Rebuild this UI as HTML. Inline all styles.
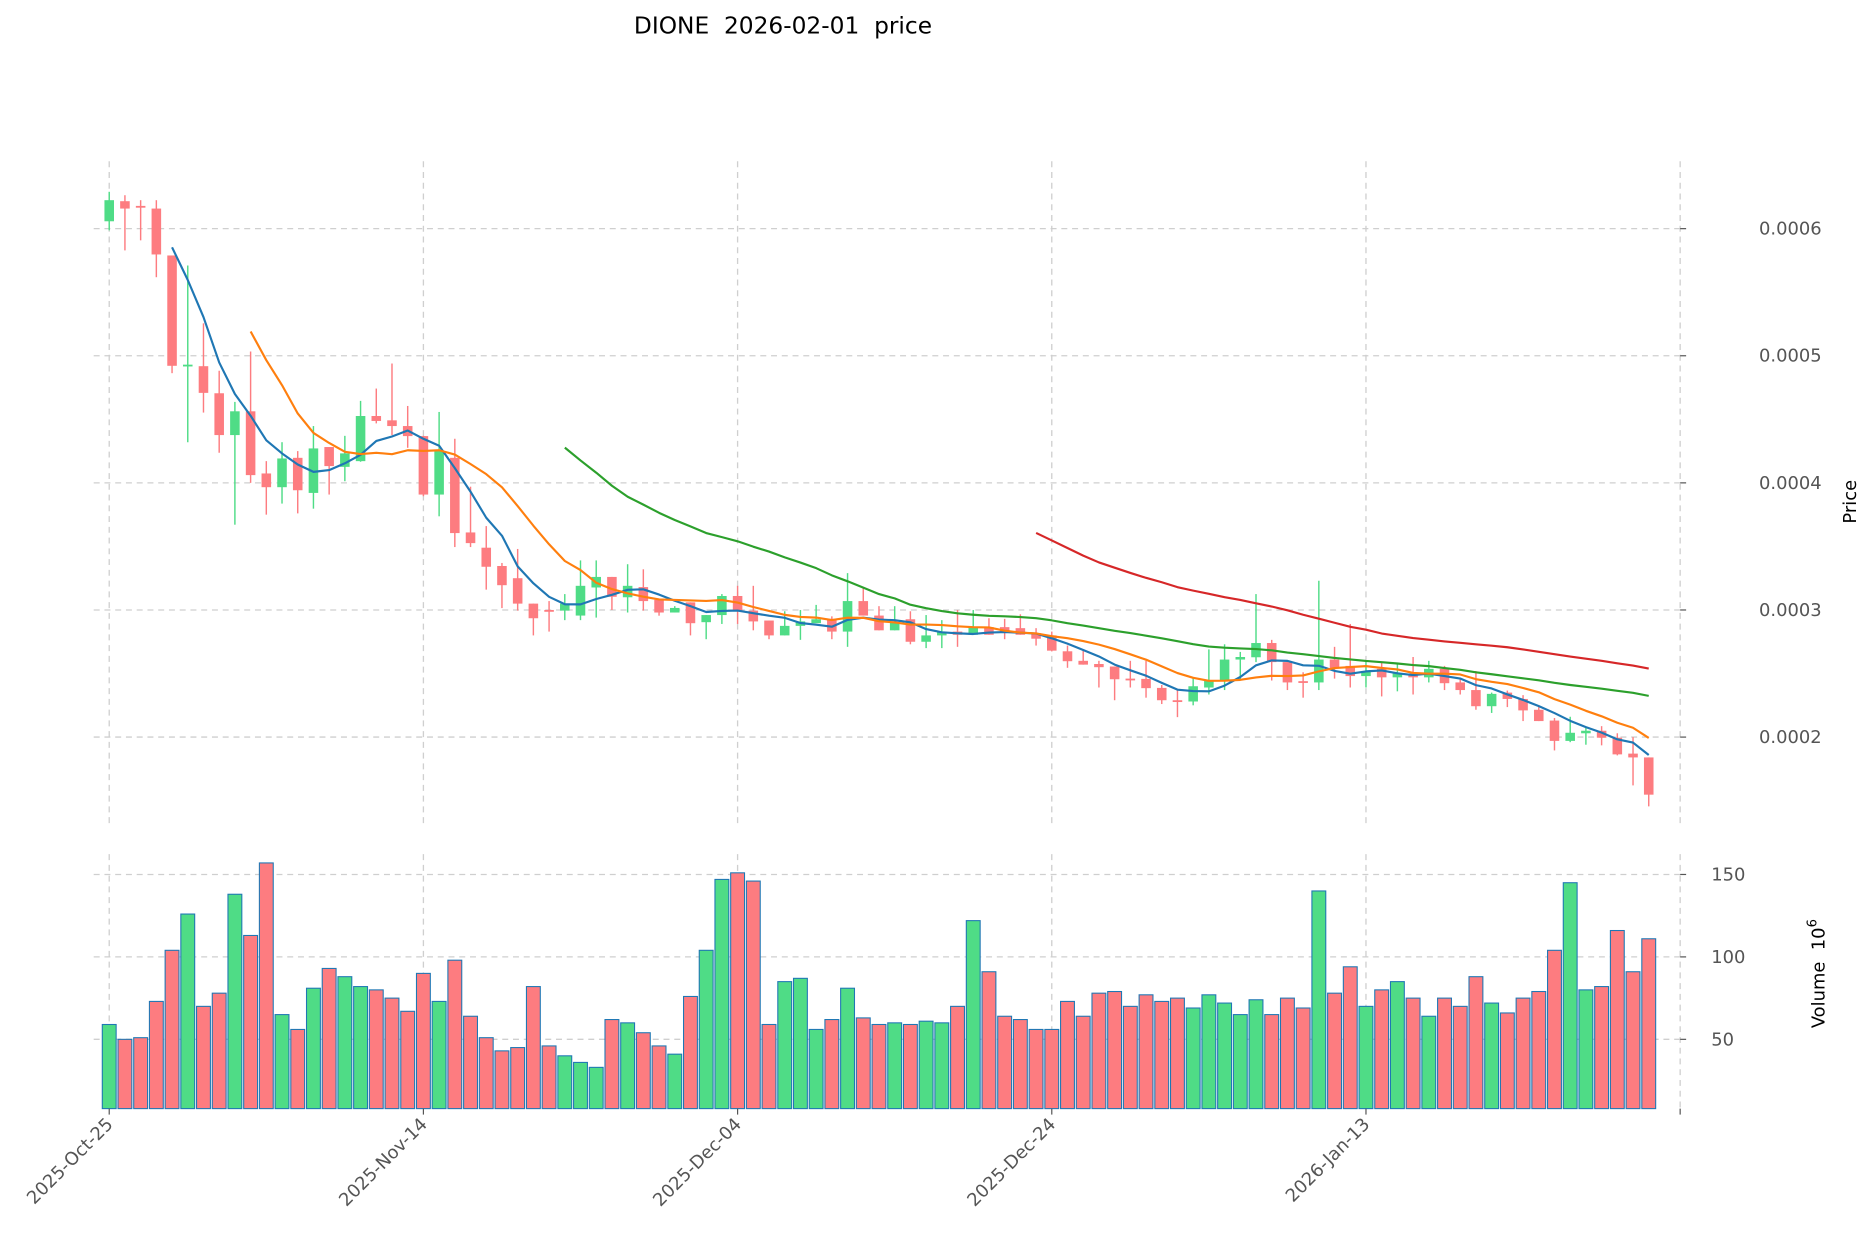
<!DOCTYPE html>
<html><head><meta charset="utf-8"><style>
html,body{margin:0;padding:0;background:#fff;}
svg{display:block;font-family:"DejaVu Sans","Liberation Sans",sans-serif;}
</style></head><body>
<svg id="chart" width="1873" height="1246" viewBox="0 0 1567 1043" xmlns="http://www.w3.org/2000/svg">
<text x="655" y="28" font-size="19.5" text-anchor="middle" fill="#000" xml:space="preserve">DIONE  2026-02-01  price</text>
<g id="grid"></g>
<g id="vol"></g>
<g id="candles"></g>
<g id="mas"></g>
<g id="axes"></g>
<text transform="translate(1553,420) rotate(-90)" font-size="15" text-anchor="middle" fill="#000">Price</text>
<text transform="translate(1527,815) rotate(-90)" font-size="15" text-anchor="middle" fill="#000" xml:space="preserve">Volume  10<tspan dy="-7" font-size="11">6</tspan></text>
</svg>
<script>
const opens=[6.058,6.216,6.179,6.158,5.789,4.92,4.918,4.705,4.376,4.563,4.074,3.966,4.197,3.921,4.282,4.126,4.171,4.526,4.492,4.447,4.368,3.908,4.197,3.61,3.49,3.346,3.25,3.05,3.0,2.995,2.956,3.177,3.26,3.1,3.18,3.08,2.98,3.06,2.904,2.96,3.11,2.995,2.917,2.80,2.875,2.896,2.93,2.83,3.07,2.956,2.84,2.927,2.75,2.80,2.83,2.805,2.865,2.865,2.857,2.818,2.80,2.675,2.60,2.575,2.555,2.46,2.458,2.387,2.29,2.28,2.39,2.445,2.61,2.628,2.74,2.59,2.44,2.43,2.61,2.56,2.48,2.537,2.47,2.50,2.47,2.537,2.43,2.37,2.243,2.35,2.30,2.215,2.13,1.97,2.03,2.05,1.995,1.87,1.84];
const closes=[6.224,6.158,6.168,5.797,4.921,4.93,4.708,4.376,4.563,4.061,3.966,4.192,3.942,4.271,4.132,4.232,4.526,4.487,4.447,4.368,3.908,4.25,3.605,3.526,3.34,3.195,3.05,2.935,2.995,3.05,3.19,3.26,3.104,3.19,3.07,2.98,3.016,2.896,2.96,3.11,2.995,2.91,2.80,2.875,2.91,2.927,2.83,3.07,2.956,2.84,2.9,2.75,2.80,2.83,2.805,2.87,2.805,2.82,2.805,2.774,2.68,2.597,2.57,2.55,2.455,2.455,2.385,2.29,2.28,2.40,2.445,2.61,2.63,2.74,2.59,2.43,2.435,2.61,2.54,2.48,2.52,2.47,2.50,2.47,2.537,2.424,2.37,2.243,2.34,2.30,2.21,2.126,1.97,2.034,2.05,1.995,1.864,1.84,1.547];
const highs=[6.29,6.263,6.224,6.224,5.789,5.71,5.255,4.882,4.637,5.034,4.171,4.32,4.25,4.447,4.28,4.37,4.645,4.742,4.939,4.605,4.37,4.558,4.347,3.97,3.66,3.37,3.48,3.05,3.07,3.125,3.39,3.39,3.26,3.36,3.32,3.08,3.03,3.06,2.96,3.125,3.19,3.19,2.917,2.99,3.0,3.04,2.95,3.29,3.18,3.03,3.03,2.99,2.96,2.92,3.0,3.0,2.935,2.93,2.966,2.857,2.83,2.72,2.68,2.60,2.555,2.6,2.60,2.41,2.37,2.466,2.69,2.73,2.67,3.125,2.765,2.59,2.51,3.23,2.71,2.89,2.6,2.59,2.58,2.63,2.6,2.56,2.46,2.52,2.35,2.366,2.33,2.236,2.15,2.16,2.08,2.086,2.03,2.0,1.84];
const lows=[5.987,5.829,5.908,5.618,4.863,4.32,4.553,4.237,3.671,4.0,3.75,3.837,3.76,3.797,3.908,4.013,4.166,4.468,4.376,4.276,3.895,3.737,3.495,3.495,3.16,3.015,2.995,2.80,2.83,2.92,2.92,2.94,3.0,2.98,2.995,2.955,2.98,2.80,2.77,2.89,2.89,2.84,2.77,2.80,2.765,2.9,2.77,2.71,2.956,2.84,2.84,2.73,2.70,2.70,2.71,2.805,2.805,2.77,2.805,2.72,2.674,2.545,2.57,2.39,2.29,2.39,2.31,2.26,2.157,2.25,2.335,2.37,2.445,2.59,2.445,2.37,2.31,2.37,2.46,2.39,2.39,2.32,2.36,2.335,2.43,2.37,2.335,2.215,2.19,2.236,2.126,2.126,1.895,1.96,1.94,1.935,1.856,1.62,1.455];
const volumes=[59,50,51,73,104,126,70,78,138,113,157,65,56,81,93,88,82,80,75,67,90,73,98,64,51,43,45,82,46,40,36,33,62,60,54,46,41,76,104,147,151,146,59,85,87,56,62,81,63,59,60,59,61,60,70,122,91,64,62,56,56,73,64,78,79,70,77,73,75,69,77,72,65,74,65,75,69,140,78,94,70,80,85,75,64,75,70,88,72,66,75,79,104,145,80,82,116,91,111];
const maPeriods=[5,10,30,60];
const maColors=["#1f77b4","#ff7f0e","#2ca02c","#d62728"];
const xTickLabels=["2025-Oct-25","2025-Nov-14","2025-Dec-04","2025-Dec-24","2026-Jan-13"];
const xTickIdx=[0,20,40,60,80];
const priceTicks=[2,3,4,5,6];
const priceTickLabels=["0.0002","0.0003","0.0004","0.0005","0.0006"];
const volTicks=[50,100,150];

const NS="http://www.w3.org/2000/svg";
const X0=91,DX=13.15;
function xs(i){return X0+DX*i;}
function yp(v){return 617-(v-2)*106.4;}
function yv(v){return 939-v*1.38;}
function mk(tag,attrs,parent){const e=document.createElementNS(NS,tag);for(const k in attrs)e.setAttribute(k,attrs[k]);parent.appendChild(e);return e;}
const grid=document.getElementById('grid'),vol=document.getElementById('vol'),cg=document.getElementById('candles'),mg=document.getElementById('mas'),ax=document.getElementById('axes');
const GREEN="#4fdc86",RED="#fd7c80";
priceTicks.forEach((t,k)=>{
  const l=mk('line',{x1:78,x2:1406,y1:yp(t),y2:yp(t),stroke:"#cfcfcf","stroke-width":1.1,"stroke-dasharray":"5,4"},grid);
  
  
  const tk=mk('line',{x1:1406,x2:1411,y1:yp(t),y2:yp(t),stroke:"#555"},ax);
  
  
  const tx=mk('text',{x:1472,y:yp(t)+5,"font-size":15,fill:"#555"},ax);
  tx.textContent=priceTickLabels[k];
  
  
});
volTicks.forEach(t=>{
  const l=mk('line',{x1:78,x2:1406,y1:yv(t),y2:yv(t),stroke:"#cfcfcf","stroke-width":1.1,"stroke-dasharray":"5,4"},grid);
  
  
  const tk=mk('line',{x1:1406,x2:1411,y1:yv(t),y2:yv(t),stroke:"#555"},ax);
  
  
  const tx=mk('text',{x:1432,y:yv(t)+5,"font-size":15,fill:"#555"},ax);
  tx.textContent=String(t);
  
  
});
xTickIdx.concat([100]).forEach((i,k)=>{
  const x=xs(i);
  const l1=mk('line',{x1:x,x2:x,y1:135,y2:690,stroke:"#cfcfcf","stroke-width":1.1,"stroke-dasharray":"5,4"},grid);
  
  
  const l2=mk('line',{x1:x,x2:x,y1:715,y2:928,stroke:"#cfcfcf","stroke-width":1.1,"stroke-dasharray":"5,4"},grid);
  
  
  const tk=mk('line',{x1:x,x2:x,y1:928,y2:933,stroke:"#555"},ax);
  
  
  if(k<xTickLabels.length){
    const tx=mk('text',{transform:`translate(${x+4},${942}) rotate(-45)`,"font-size":15,fill:"#555","text-anchor":"end"},ax);
    tx.textContent=xTickLabels[k];
    
    
  }
});
volumes.forEach((v,i)=>{
  const up=closes[i]>=opens[i];
  const r=mk('rect',{x:xs(i)-5.8,y:yv(v),width:11.6,height:928-yv(v),fill:up?GREEN:RED,stroke:"#1f77b4","stroke-width":0.9},vol);
  
  
});
closes.forEach((c,i)=>{
  const o=opens[i],up=c>=o,col=up?GREEN:RED,x=xs(i);
  const w=mk('line',{x1:x,x2:x,y1:yp(highs[i]),y2:yp(lows[i]),stroke:col,"stroke-width":1.2},cg);
  
  
  const top=yp(Math.max(o,c)),h=Math.max(1.5,Math.abs(yp(o)-yp(c)));
  const b=mk('rect',{x:x-4,y:top,width:8,height:h,fill:col},cg);
  
  
});
maPeriods.forEach((p,k)=>{
  const pts=[];
  for(let i=p-1;i<closes.length;i++){let s=0;for(let j=i-p+1;j<=i;j++)s+=closes[j];pts.push(xs(i).toFixed(1)+","+yp(s/p).toFixed(1));}
  const pl=mk('polyline',{points:pts.join(" "),fill:"none",stroke:maColors[k],"stroke-width":1.8,"stroke-linejoin":"round"},mg);
  
  
});
</script>
</body></html>
